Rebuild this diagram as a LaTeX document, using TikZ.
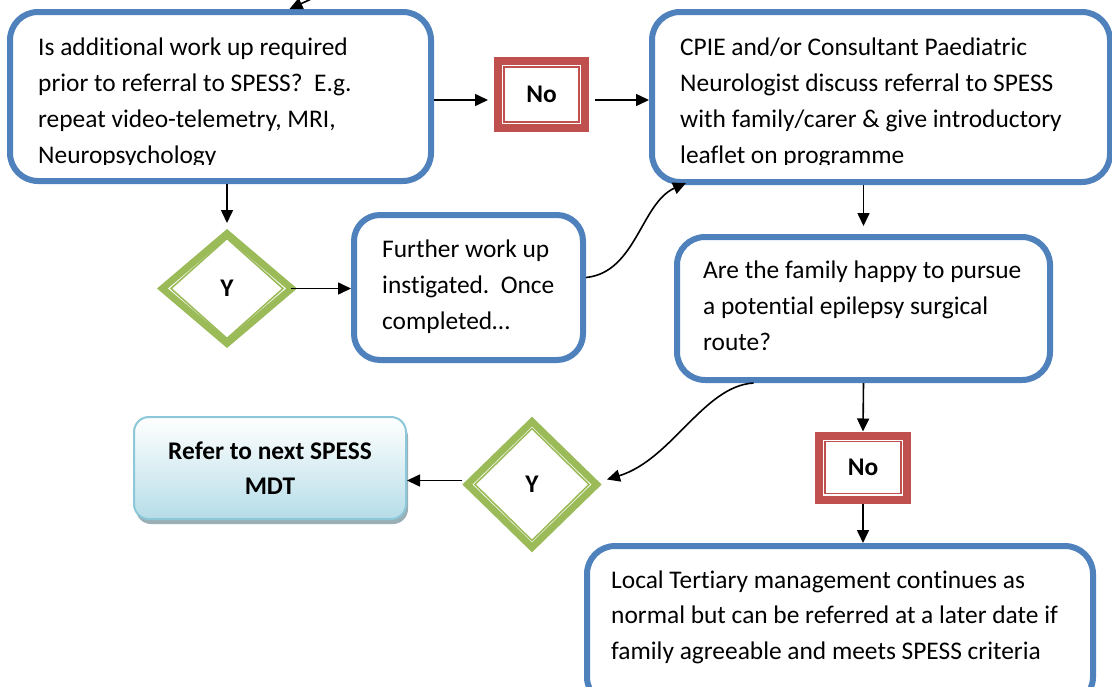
\documentclass[tikz,border=0pt]{standalone}
\usepackage{fontspec}
\setmainfont{Carlito}[Ligatures=NoCommon]
\usetikzlibrary{shapes.geometric,arrows.meta,shadows,calc}
\definecolor{sblue}{HTML}{4F81BD}
\definecolor{sred}{HTML}{C0504D}
\definecolor{sgreen}{HTML}{9BBB59}
\definecolor{refline}{HTML}{8DC8DA}
\definecolor{refbot}{HTML}{B6DDE8}
\definecolor{refshadow}{HTML}{9AAEB6}
\begin{document}
\begin{tikzpicture}[x=1pt,y=-1pt,
  blk/.style={draw=sblue, line width=6pt, rounded corners=28pt, inner sep=0pt, fill=white},
  txt/.style={anchor=base west, inner sep=0pt},
  nobox/.style={draw=sred, line width=8pt, inner sep=0pt, fill=white, font=\fontsize{25.4}{30}\selectfont\bfseries},
  ydiam/.style={diamond, inner sep=0pt, outer sep=0pt, font=\fontsize{25.4}{30}\selectfont\bfseries},
  outergreen/.style={draw=sgreen, line width=7pt, line join=miter},
  innerred/.style={draw=sred, line width=1.6pt},
  innergreen/.style={draw=sgreen, line width=1.6pt},
  refbox/.style={draw=refline, line width=2pt, rounded corners=15pt, top color=white, bottom color=refbot,
    minimum width=272pt, minimum height=102pt, inner sep=0pt, align=center,
    font=\fontsize{25.4}{35}\selectfont\bfseries,
    drop shadow={shadow xshift=2pt, shadow yshift=-5pt, fill=refshadow, opacity=1}},
  arr/.style={draw=black, line width=1.6pt, -{Triangle[length=13pt,width=12pt]}},
]
\useasboundingbox (0,0) rectangle (1112,686);
\clip (0,0) rectangle (1112,686);

% boxes
\node[blk, minimum width=421pt, minimum height=169pt] (b1) at (220.5,96.5) {};
\node[blk, minimum width=458pt, minimum height=170pt] (b2) at (881,97) {};
\node[blk, minimum width=229pt, minimum height=145pt, rounded corners=26pt] (b3) at (468.5,287.5) {};
\node[blk, minimum width=373pt, minimum height=143pt] (b4) at (863.5,308.5) {};
\node[blk, minimum width=506pt, minimum height=159pt] (b5) at (840,625.5) {};

% clipped texts of the two top boxes
\begin{scope}
\clip (0,0) rectangle (1112,164);
\node[txt] (t1) at (38,55) {\parbox[t]{400pt}{\raggedright\fontsize{25.4}{36}\selectfont
  Is additional work up required\\prior to referral to SPESS?\ \ E.g.\\repeat video-telemetry, MRI,\\Neuropsychology}};
\node[txt] (t2) at (680,55) {\parbox[t]{430pt}{\raggedright\fontsize{25.4}{36}\selectfont
  CPIE and/or Consultant Paediatric\\Neurologist discuss referral to SPESS\\with family/carer \& give introductory\\leaflet on programme}};
\end{scope}

\node[txt] (t3) at (382,257) {\parbox[t]{200pt}{\raggedright\fontsize{25.4}{36}\selectfont
  Further work up\\instigated.\ \ Once\\completed…}};
\node[txt] (t4) at (703,278) {\parbox[t]{340pt}{\raggedright\fontsize{25.4}{36}\selectfont
  Are the family happy to pursue\\a potential epilepsy surgical\\route?}};
\node[txt] (t5) at (611,588) {\parbox[t]{480pt}{\raggedright\fontsize{25.4}{35.5}\selectfont
  Local Tertiary management continues as\\normal but can be referred at a later date if\\family agreeable and meets SPESS criteria}};

% No boxes
\node[nobox, minimum width=87pt, minimum height=67pt] (no1) at (541.5,94.5) {No};
\draw[innerred] ([shift={(10pt,10pt)}]no1.south west) rectangle ([shift={(-10pt,-10pt)}]no1.north east);
\node[nobox, minimum width=88pt, minimum height=64pt] (no2) at (863,467.5) {No};
\draw[innerred] ([shift={(10pt,10pt)}]no2.south west) rectangle ([shift={(-10pt,-10pt)}]no2.north east);

% diamonds
\node[ydiam, minimum width=140pt, minimum height=119pt] (d1) at (227,288.5) {Y};
\draw[outergreen] ($(d1.center)+(-64.6,0)$) -- ($(d1.center)+(0,-54.9)$) -- ($(d1.center)+(64.6,0)$) -- ($(d1.center)+(0,54.9)$) -- cycle;
\draw[innergreen] ($(d1.center)+(-56,0)$) -- ($(d1.center)+(0,-50)$) -- ($(d1.center)+(56,0)$) -- ($(d1.center)+(0,50)$) -- cycle;
\node[ydiam, minimum width=140pt, minimum height=135pt] (d2) at (532,484.5) {Y};
\draw[outergreen] ($(d2.center)+(-64.6,0)$) -- ($(d2.center)+(0,-62.9)$) -- ($(d2.center)+(64.6,0)$) -- ($(d2.center)+(0,62.9)$) -- cycle;
\draw[innergreen] ($(d2.center)+(-57,0)$) -- ($(d2.center)+(0,-56)$) -- ($(d2.center)+(57,0)$) -- ($(d2.center)+(0,56)$) -- cycle;

% refer box
\node[refbox] (rf) at (270,468) {Refer to next SPESS\\MDT};

% connectors
\coordinate (topin) at (320,-5);
\coordinate (d2w) at ([yshift=4pt]d2.west);
\draw[arr] (topin) -- ([xshift=69pt]b1.north);
\draw[arr, shorten >=6pt] ([yshift=-3.5pt]b1.east) -- ([yshift=-5.5pt]no1.west);
\draw[arr, shorten <=6pt] ([yshift=-5.5pt]no1.east) -- ([yshift=-3pt]b2.west);
\draw[arr, shorten >=6pt] (b1.south -| d1.north) -- (d1.north);
\draw[arr] ([xshift=-6pt]d1.east) -- (b3.west |- d1.east);
\draw[arr] ([yshift=10pt]b3.east) .. controls +(50,-5) and +(-45,20) .. ([xshift=37pt,yshift=2pt]b2.south west);
\draw[arr, shorten >=8pt] (b2.south -| b4.north) -- (b4.north);
\draw[arr] (b4.south) -- (no2.north);
\draw[arr] (no2.south) -- (no2.south |- b5.north);
\draw[arr] ([xshift=-110pt]b4.south) .. controls +(-50,3) and +(65,-20) .. ([xshift=5pt,yshift=5pt]d2.east);
\draw[arr] (d2w) -- (rf.east |- d2w);
\end{tikzpicture}
\end{document}
